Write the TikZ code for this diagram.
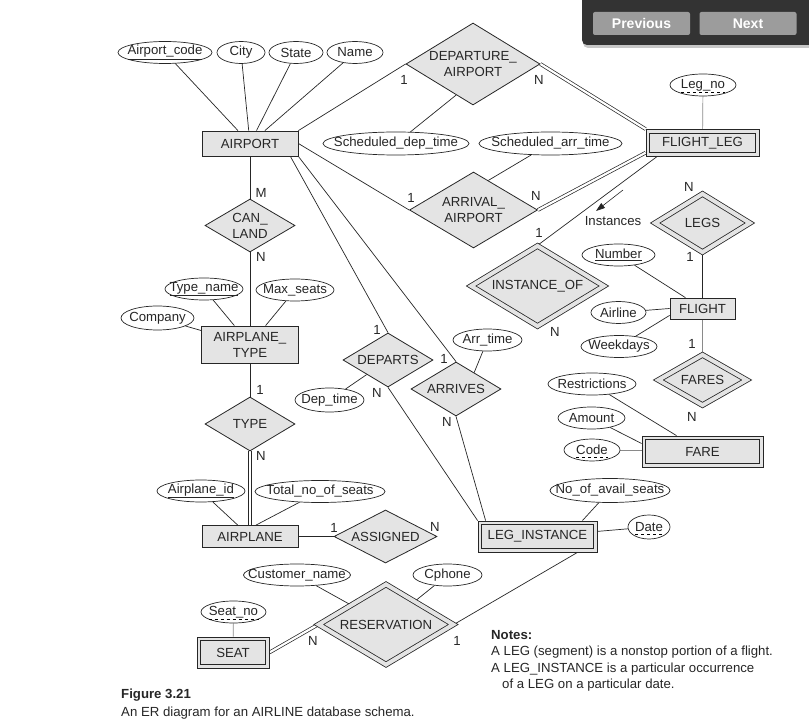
\documentclass[tikz,border=0pt]{standalone}
\usepackage{fontspec}
\setmainfont{Liberation Sans}
\usetikzlibrary{shapes.geometric, arrows.meta, calc, backgrounds}

\definecolor{boxgray}{HTML}{E4E4E4}
\definecolor{inkgray}{HTML}{262626}
\definecolor{linegray}{HTML}{8A8A8A}
\definecolor{panel}{HTML}{333333}
\definecolor{btngray}{HTML}{9C9C9C}

\newcommand{\nowidth}[1]{\makebox[0pt]{#1}}
% inner border of a weak entity
\newcommand{\innerbox}[1]{%
    \draw[draw=inkgray, line width=0.8pt]
        ([shift={(4pt,-4pt)}]#1.north west) rectangle ([shift={(-4pt,4pt)}]#1.south east);}

\begin{document}
\begin{tikzpicture}[
    x=1pt, y=-1pt,
    % Styles
    every node/.style={font=\fontsize{13.2}{16}\selectfont, text=inkgray},
    entity/.style={
        rectangle, draw=inkgray, fill=boxgray, line width=0.8pt,
        inner sep=0pt, minimum width=#1, minimum height=22pt, align=center
    },
    weakentity/.style={
        entity=#1, minimum height=31pt
    },
    rel/.style={
        diamond, draw=inkgray, fill=boxgray, line width=0.8pt,
        inner sep=0pt, aspect=1.65, align=center
    },
    weakrel/.style={
        rel, double=boxgray, double distance=4pt
    },
    attr/.style={
        ellipse, draw=inkgray, fill=white, line width=0.7pt,
        inner sep=0pt, minimum width=#1, minimum height=22pt
    },
    card/.style={inner sep=0pt},
    link/.style={draw=inkgray, line width=0.7pt},
    total/.style={link, double, double distance=2.2pt},
    button/.style={
        rectangle, rounded corners=2pt, fill=btngray, text=white,
        minimum width=97pt, minimum height=23pt,
        font=\fontsize{14}{16}\selectfont\bfseries
    }
]
\useasboundingbox (0,0) rectangle (809,727);

% ── Entities ────────────────────────────────────────────────────────────────
\node[entity=96pt, minimum height=25pt] (airport) at (250,143.5) {AIRPORT};
\node[weakentity=113pt, minimum height=27pt] (flightleg) at (702.5,143) {FLIGHT\_LEG};
\node[entity=97pt, minimum height=37pt] (airplanetype) at (250,344.5) {AIRPLANE\_\\TYPE};
\node[entity=65pt, minimum height=21pt] (flight) at (702.5,308.5) {FLIGHT};
\node[weakentity=121pt] (fare) at (702.5,451.5) {FARE};
\node[entity=96pt] (airplane) at (250,536.5) {AIRPLANE};
\node[weakentity=119pt] (leginst) at (537.5,536.5) {LEG\_INSTANCE};
\node[weakentity=72pt] (seat) at (233,652.5) {SEAT};
\innerbox{flightleg}
\innerbox{fare}
\innerbox{leginst}
\innerbox{seat}

% ── Relationships ───────────────────────────────────────────────────────────
\node[rel, minimum width=134pt, minimum height=82pt] (depapt) at (473,64) {DEPARTURE\_\\AIRPORT};
\node[rel, minimum width=128pt, minimum height=76pt] (arrapt) at (473.5,210) {ARRIVAL\_\\AIRPORT};
\node[rel, minimum width=90pt, minimum height=53pt] (canland) at (250,225.5) {CAN\_\\LAND};
\node[rel, minimum width=90pt, minimum height=54pt] (typerel) at (250,424) {TYPE};
\node[rel, minimum width=90pt, minimum height=54pt] (departs) at (388,360) {DEPARTS};
\node[rel, minimum width=90pt, minimum height=54pt] (arrives) at (456,389) {ARRIVES};
\node[rel, minimum width=103pt, minimum height=53pt] (assigned) at (385.5,536.5) {ASSIGNED};
\node[weakrel, minimum width=133pt, minimum height=80.5pt] (instanceof) at (537.5,286) {INSTANCE\_OF};
\node[weakrel, minimum width=95pt, minimum height=58.5pt] (legs) at (702.5,223) {LEGS};
\node[weakrel, minimum width=88.6pt, minimum height=50.6pt] (fares) at (702.5,380) {FARES};
\node[weakrel, minimum width=134.8pt, minimum height=80.5pt] (reservation) at (386,624.5) {RESERVATION};

% ── Attributes ──────────────────────────────────────────────────────────────
\node[attr=94pt] (apcode) at (165,52.5) {\nowidth{\underline{Airport\_code}}};
\node[attr=48pt] (city) at (241,52.5) {\nowidth{City}};
\node[attr=54pt] (state) at (296,52.5) {\nowidth{State}};
\node[attr=56pt] (aname) at (355,52.5) {\nowidth{Name}};
\node[attr=146pt, minimum height=23pt] (schdep) at (396,143.5) {\nowidth{Scheduled\_dep\_time}};
\node[attr=143pt, minimum height=23pt] (scharr) at (550.5,143.5) {\nowidth{Scheduled\_arr\_time}};
\node[attr=66pt] (legno) at (703,85) {\nowidth{Leg\_no}};
\node[attr=73pt] (number) at (618.5,255) {\nowidth{\underline{Number}}};
\node[attr=55pt] (airline) at (618.5,312.5) {\nowidth{Airline}};
\node[attr=76pt] (weekdays) at (619,346.5) {\nowidth{Weekdays}};
\node[attr=88pt] (restrict) at (592,384) {\nowidth{Restrictions}};
\node[attr=67pt] (amount) at (591.5,418) {\nowidth{Amount}};
\node[attr=56pt] (code) at (592,450) {\nowidth{Code}};
\node[attr=78pt] (typename) at (204,289) {\nowidth{\underline{Type\_name}}};
\node[attr=78pt] (maxseats) at (295,290) {\nowidth{Max\_seats}};
\node[attr=73pt, minimum height=24pt] (company) at (157.5,318) {\nowidth{Company}};
\node[attr=69pt, minimum height=24pt] (deptime) at (329.5,400) {\nowidth{Dep\_time}};
\node[attr=69pt] (arrtime) at (487.5,340) {\nowidth{Arr\_time}};
\node[attr=88pt] (airplaneid) at (201,491) {\nowidth{\underline{Airplane\_id}}};
\node[attr=130pt] (totalseats) at (320,491.5) {\nowidth{Total\_no\_of\_seats}};
\node[attr=120pt, minimum height=24pt] (noseats) at (610,490.5) {\nowidth{No\_of\_avail\_seats}};
\node[attr=42pt, minimum height=24pt] (date) at (649,527) {\nowidth{Date}};
\node[attr=107pt] (custname) at (297,575) {\nowidth{Customer\_name}};
\node[attr=69pt] (cphone) at (447.5,575) {\nowidth{Cphone}};
\node[attr=65pt] (seatno) at (233.5,612) {\nowidth{Seat\_no}};

% partial keys
\draw[dashed, line width=0.6pt] ([xshift=-22pt,yshift=-7pt]legno.center) -- ([xshift=22pt,yshift=-7pt]legno.center);
\draw[dashed, line width=0.6pt] ([xshift=-16pt,yshift=-7pt]code.center) -- ([xshift=16pt,yshift=-7pt]code.center);
\draw[dashed, line width=0.6pt] ([xshift=-14pt,yshift=-7pt]date.center) -- ([xshift=14pt,yshift=-7pt]date.center);
\draw[dashed, line width=0.6pt] ([xshift=-25pt,yshift=-7pt]seatno.center) -- ([xshift=25pt,yshift=-7pt]seatno.center);

% ── Cardinalities ───────────────────────────────────────────────────────────
\node[card] (depone) at (404,80) {1};
\node[card] (depmany) at (539,80) {N};
\node[card] (arrone) at (411,198) {1};
\node[card] (arrmany) at (536,196) {N};
\node[card] (instone) at (539,233) {1};
\node[card] (instmany) at (555,332) {N};
\node[card] (legsmany) at (689,187) {N};
\node[card] (legsone) at (690,257) {1};
\node[card] (faresone) at (692,344) {1};
\node[card] (faresmany) at (692,417) {N};
\node[card] (landm) at (261,193) {M};
\node[card] (landn) at (261,257) {N};
\node[card] (typeone) at (260,390) {1};
\node[card] (typemany) at (261,456) {N};
\node[card] (depsone) at (377,330) {1};
\node[card] (depsmany) at (377,393) {N};
\node[card] (arrsone) at (444,359) {1};
\node[card] (arrsmany) at (447,422) {N};
\node[card] (asgone) at (334,528) {1};
\node[card] (asgmany) at (435,527) {N};
\node[card] (resmany) at (313,641) {N};
\node[card] (resone) at (457,641) {1};

% Instances direction
\coordinate (instfrom) at (623,190);
\coordinate (instto) at (596,211);
\draw[-{Triangle[length=9pt,width=6pt]}, line width=0.6pt, inkgray] (instfrom) -- (instto);
\node[card] (instances) at (613,221) {Instances};

% ── Connectors ──────────────────────────────────────────────────────────────
\begin{pgfonlayer}{background}
    % AIRPORT
    \draw[link] (apcode) -- (airport);
    \draw[link] (city) -- (airport);
    \draw[link] (state) -- (airport);
    \draw[link] (aname) -- (airport);
    \draw[link] (airport.north east) -- (depapt.west);
    \draw[total] (depapt.east) -- (flightleg.north west);
    \draw[link] (schdep) -- ($(depapt.west)!0.75!(depapt.south)$);
    \draw[link] (airport.east) -- (arrapt.west);
    \draw[total] (arrapt.east) -- ($(flightleg.west)!0.7!(flightleg.south west)$);
    \draw[link] (scharr) -- ($(arrapt.north)!0.23!(arrapt.east)$);

    % FLIGHT_LEG, FLIGHT, FARE
    \draw[link, draw=linegray] (legno) -- (flightleg);
    \draw[link] ([xshift=11pt]flightleg.south west) -- (instanceof.north);
    \draw[total] (flightleg.south) -- (legs.north);
    \draw[link] (legs.south) -- (flight.north);
    \draw[link] (number) -- (flight);
    \draw[link] (airline) -- (flight.west);
    \draw[link] (weekdays) -- ([yshift=4pt]flight.south west);
    \draw[link, draw=linegray] (flight.south) -- (fares.north);
    \draw[total] (fares.south) -- (fare.north);
    \draw[link] (restrict) -- (fare);
    \draw[link] (amount) -- ([yshift=8pt]fare.west);
    \draw[link, draw=linegray] (code) -- (code -| fare.west);

    % AIRPLANE_TYPE, AIRPLANE
    \draw[link] (airport.south) -- (canland.north);
    \draw[link] (canland.south) -- (airplanetype.north);
    \draw[link] (typename) -- (airplanetype);
    \draw[link] (maxseats) -- (airplanetype);
    \draw[link] (company) -- (airplanetype);
    \draw[link] (airplanetype.south) -- (typerel.north);
    \draw[total] (typerel.south) -- (airplane.north);
    \draw[link] (airplaneid) -- (airplane);
    \draw[link] (totalseats) -- ([xshift=6pt]airplane.north);
    \draw[link] (airplane.east) -- (assigned.west);
    \draw[total] (assigned.east) -- (leginst.west);

    % LEG_INSTANCE
    \draw[link] ([xshift=-8pt]airport.south east) -- (departs.north);
    \draw[link] (airport.south east) -- (arrives.north);
    \draw[link] (deptime) -- (departs);
    \draw[link] (arrtime) -- ($(arrives.north)!0.4!(arrives.east)$);
    \draw[link] (departs.south) -- (leginst.north west);
    \draw[link] (arrives.south) -- ([xshift=8pt]leginst.north west);
    \draw[total] (instanceof.south) -- (leginst.north);
    \draw[link] (noseats) -- ([xshift=-15pt]leginst.north east);
    \draw[link] (date) -- (leginst);

    % RESERVATION, SEAT
    \draw[link] ([xshift=40pt]leginst.south) -- (reservation.east);
    \draw[total] (reservation.west) -- (seat.east);
    \draw[link] (custname) -- (reservation);
    \draw[link] (cphone) -- (reservation);
    \draw[link, draw=linegray] (seatno) -- (seat);
\end{pgfonlayer}

% ── Notes and caption ───────────────────────────────────────────────────────
\node[card, anchor=base west] (notehead) at (491,639) {\bfseries Notes:};
\node[card, anchor=base west] (noteone) at (491,655) {A LEG (segment) is a nonstop portion of a flight.};
\node[card, anchor=base west] (notetwo) at (491,672) {A LEG\_INSTANCE is a particular occurrence};
\node[card, anchor=base west] (notethree) at (502,688) {of a LEG on a particular date.};
\node[card, anchor=base west] (figlabel) at (121,698) {\bfseries Figure 3.21};
\node[card, anchor=base west] (figtext) at (121,716) {An ER diagram for an AIRLINE database schema.};

% ── Viewer overlay ──────────────────────────────────────────────────────────
\fill[black!22, rounded corners=5pt] (583,-10) rectangle (815,48);
\fill[panel, rounded corners=5pt] (582,-10) rectangle (815,45);
\node[button] (prevbtn) at (641.5,23.5) {Previous};
\node[button] (nextbtn) at (748,23.5) {Next};

\end{tikzpicture}
\end{document}
